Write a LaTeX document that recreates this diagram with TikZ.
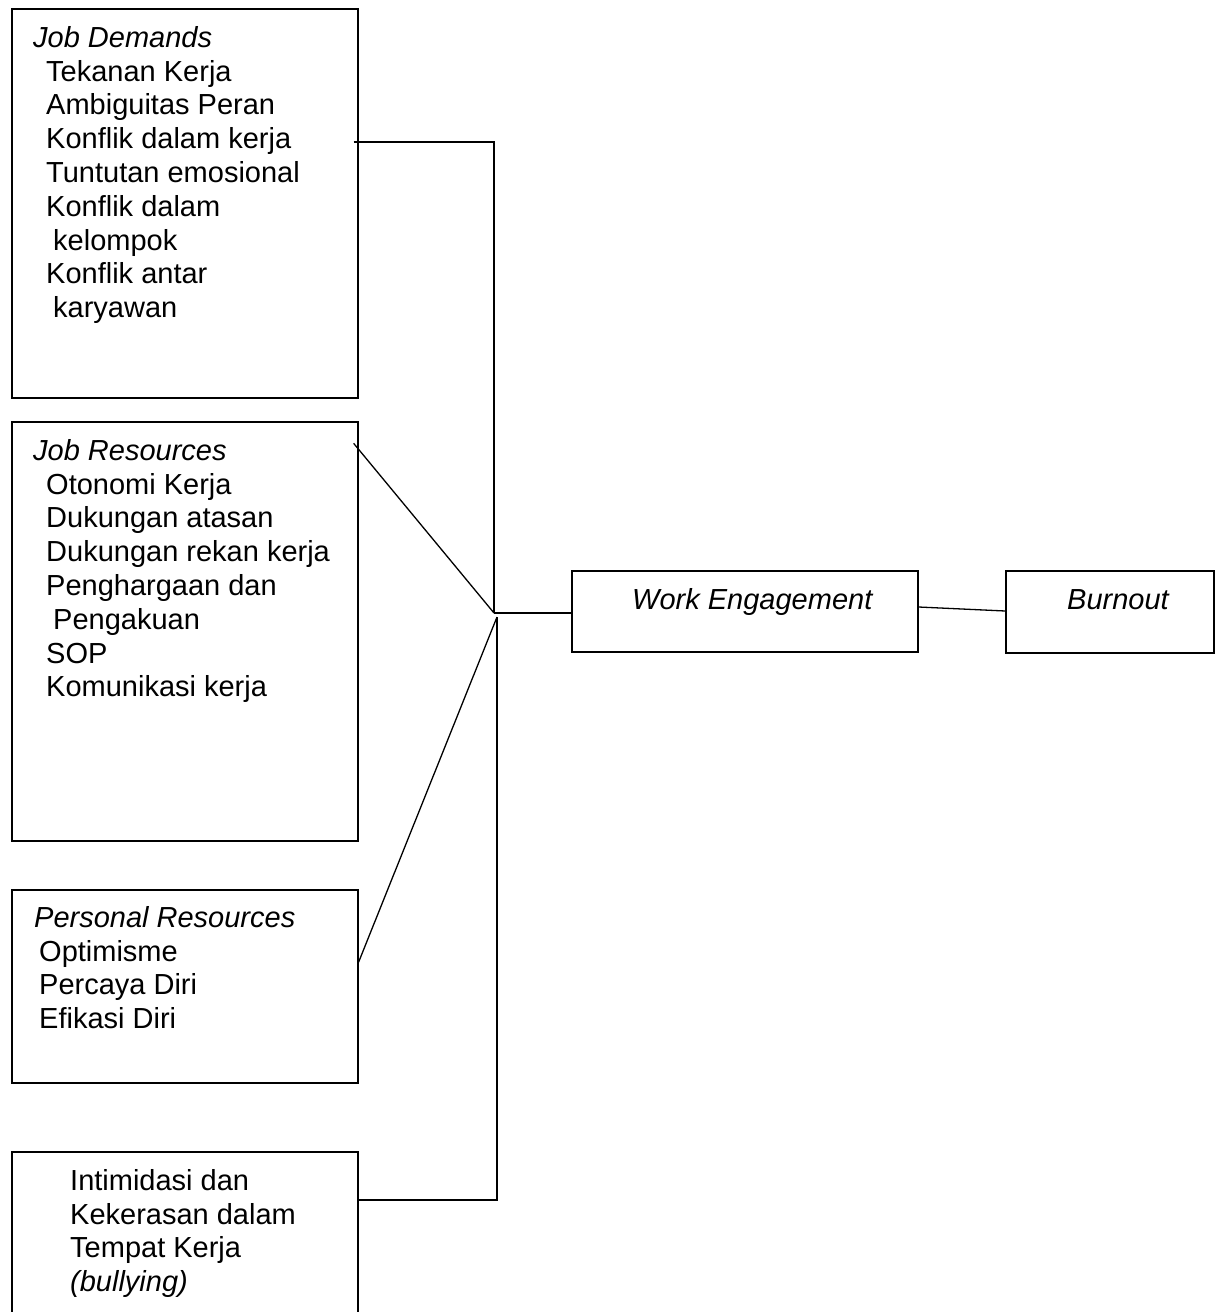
\documentclass[tikz,border=0pt]{standalone}
\usepackage{fontspec}
\setmainfont{Liberation Sans}
\usetikzlibrary{calc}
\tikzset{
  box/.style={draw, line width=1.3pt, rectangle, inner sep=0pt},
  txt/.style={inner sep=0pt, align=left, font=\fontsize{29}{33.8}\selectfont},
  conn/.style={draw, line width=1.3pt}
}
\begin{document}
\begin{tikzpicture}[x=1pt,y=-1pt]
\useasboundingbox (0,0) rectangle (1215,1312);
\clip (0,0) rectangle (1215,1312);
% boxes
\node[box, minimum width=346pt, minimum height=389pt] (jd) at (185,203.5) {};
\node[box, minimum width=346pt, minimum height=419pt] (jr) at (185,631.5) {};
\node[box, minimum width=346pt, minimum height=193pt] (pr) at (185,986.5) {};
\node[box, minimum width=346pt, minimum height=188pt] (bu) at (185,1246) {};
\node[box, minimum width=346pt, minimum height=81pt] (we) at (745,611.5) {};
\node[box, minimum width=208pt, minimum height=82pt] (bo) at (1110,612) {};
% texts
\node[txt, anchor=north west] (jdt) at (33,26) {\itshape Job Demands\\
\hspace*{13pt}Tekanan Kerja\\
\hspace*{13pt}Ambiguitas Peran\\
\hspace*{13pt}Konflik dalam kerja\\
\hspace*{13pt}Tuntutan emosional\\
\hspace*{13pt}Konflik dalam\\
\hspace*{20pt}kelompok\\
\hspace*{13pt}Konflik antar\\
\hspace*{20pt}karyawan};
\node[txt, anchor=north west] (jrt) at (33,439) {\itshape Job Resources\\
\hspace*{13pt}Otonomi Kerja\\
\hspace*{13pt}Dukungan atasan\\
\hspace*{13pt}Dukungan rekan kerja\\
\hspace*{13pt}Penghargaan dan\\
\hspace*{20pt}Pengakuan\\
\hspace*{13pt}SOP\\
\hspace*{13pt}Komunikasi kerja};
\node[txt, anchor=north west] (prt) at (34,906) {\itshape Personal Resources\\
\hspace*{5pt}Optimisme\\
\hspace*{5pt}Percaya Diri\\
\hspace*{5pt}Efikasi Diri};
\node[txt, anchor=north west] (but) at (70,1169) {Intimidasi dan\\
Kekerasan dalam\\
Tempat Kerja\\
\itshape (bullying)};
\node[txt, anchor=base west] (wet) at (632,609) {\itshape Work Engagement};
\node[txt, anchor=base west] (bot) at (1067,609) {\itshape Burnout};
% junctions
\coordinate (ja) at (494,613);
\coordinate (jb) at (497,617);
% connectors
\draw[conn] ($(jd.east)+(-5,-61.5)$) -| (ja);
\draw[conn] ($(jr.north east)+(-5,22)$) -- (ja);
\draw[conn] ($(pr.east)+(0,-24.5)$) -- (jb);
\draw[conn] ($(bu.east)+(0,-46)$) -| (jb);
\draw[conn] (ja) -- (we.west |- ja);
\draw[conn] ($(we.east)+(0,-4.5)$) -- ($(bo.west)+(0,-1)$);
\end{tikzpicture}
\end{document}
